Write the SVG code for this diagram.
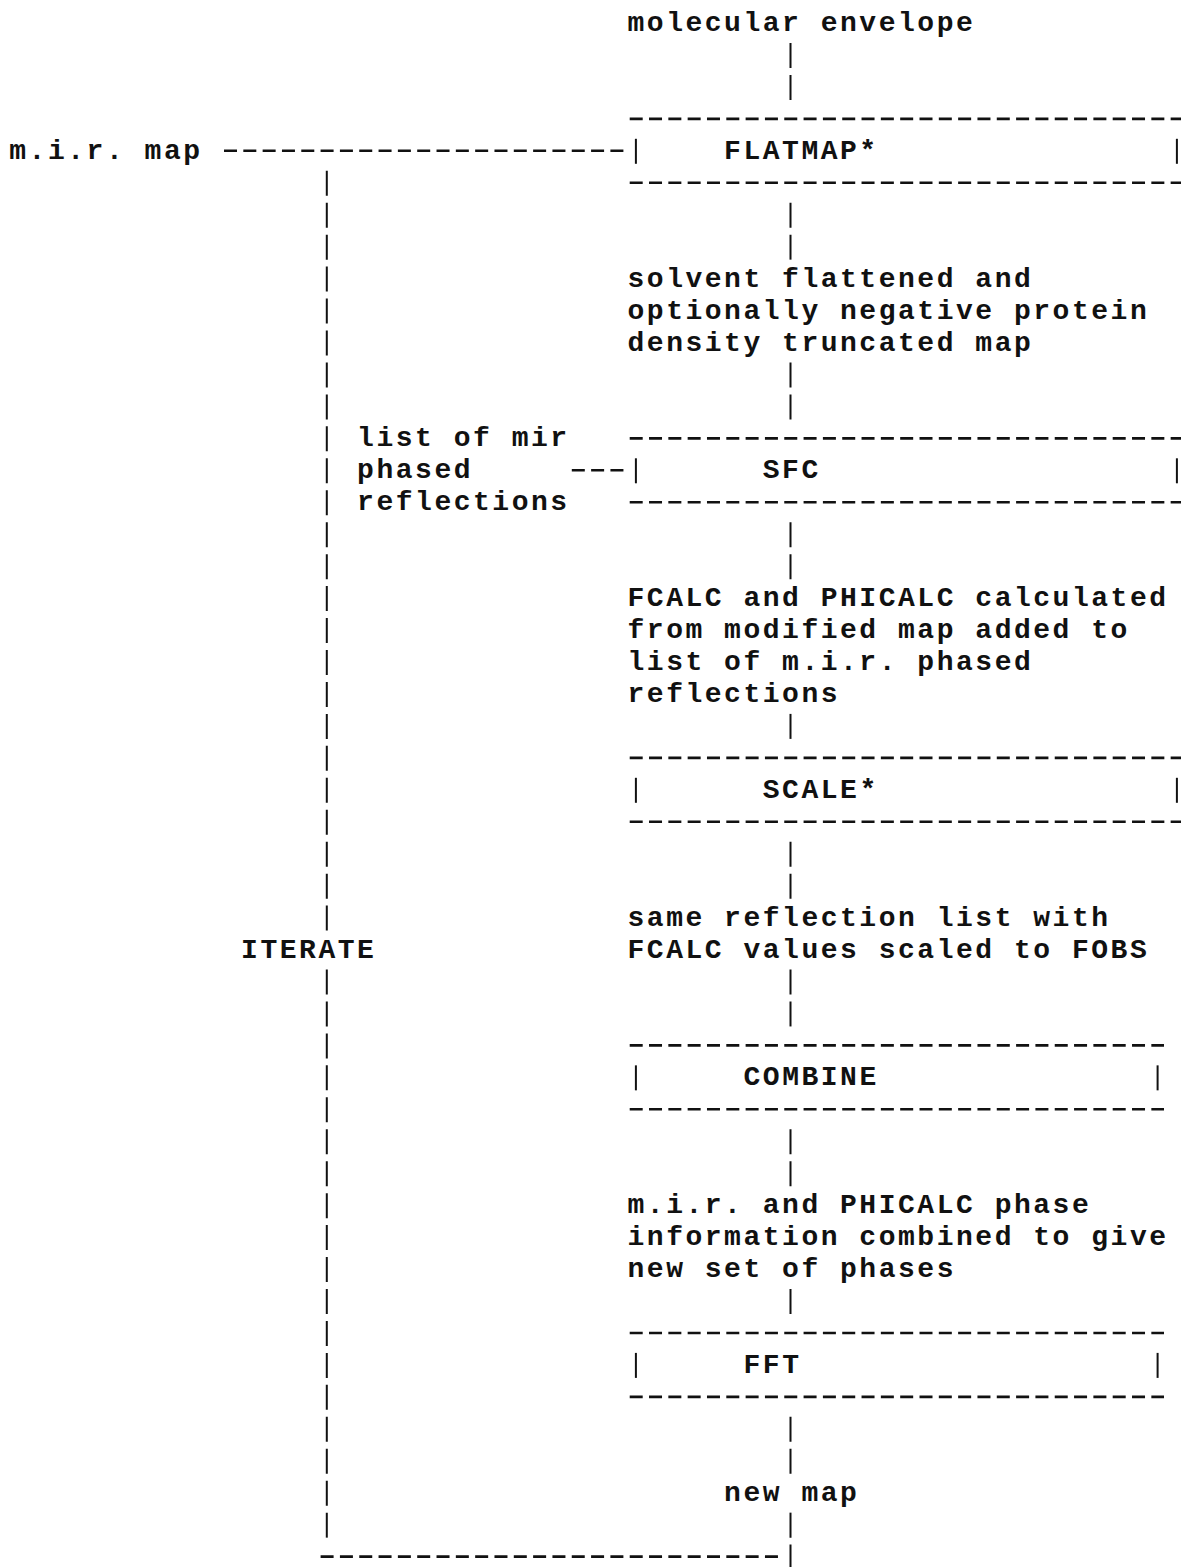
<svg xmlns="http://www.w3.org/2000/svg" width="1181" height="1567" viewBox="0 0 1181 1567">
<style>
.t{font-family:"Liberation Mono","Courier New",monospace;font-size:28px;letter-spacing:2.52px;font-weight:bold;fill:#111}
.h{stroke:#111;stroke-width:2.6;stroke-dasharray:13 6.32;fill:none}
.v{stroke:#111;stroke-width:2;stroke-dasharray:25 6.95;fill:none}
.b{stroke:#111;stroke-width:2;fill:none}
</style>
<rect width="1181" height="1567" fill="#fff"/>
<g id="connectors">
  <line class="v" x1="790.5" y1="42.95" x2="790.5" y2="99.9"/>
  <line class="v" x1="790.5" y1="202.7" x2="790.5" y2="259.65"/>
  <line class="v" x1="790.5" y1="362.45" x2="790.5" y2="419.4"/>
  <line class="v" x1="790.5" y1="522.2" x2="790.5" y2="579.15"/>
  <line class="v" x1="790.5" y1="713.9" x2="790.5" y2="738.9"/>
  <line class="v" x1="790.5" y1="841.7" x2="790.5" y2="898.65"/>
  <line class="v" x1="790.5" y1="969.5" x2="790.5" y2="1026.45"/>
  <line class="v" x1="790.5" y1="1129.25" x2="790.5" y2="1186.2"/>
  <line class="v" x1="790.5" y1="1289" x2="790.5" y2="1314"/>
  <line class="v" x1="790.5" y1="1416.8" x2="790.5" y2="1473.75"/>
  <line class="v" x1="790.5" y1="1512.65" x2="790.5" y2="1569.6"/>
  <line class="h" x1="224" y1="150.8" x2="623.5" y2="150.8"/>
  <line class="h" x1="571.8" y1="470.3" x2="623.5" y2="470.3"/>
  <line class="v" x1="326.8" y1="170.75" x2="326.8" y2="930.6"/>
  <line class="v" x1="326.8" y1="969.5" x2="326.8" y2="1537.65"/>
  <line class="h" x1="320.6" y1="1556.6" x2="778" y2="1556.6"/>
</g>
<g id="node-molecular-envelope">
  <text class="t" x="627.5" y="31">molecular envelope</text>
</g>
<g id="node-mir-map">
  <text class="t" x="9.3" y="158.8">m.i.r. map</text>
</g>
<g id="node-flatmap">
  <line class="h" x1="629.7" y1="118.85" x2="1190" y2="118.85"/>
  <line class="h" x1="629.7" y1="182.75" x2="1190" y2="182.75"/>
  <line class="b" x1="635.9" y1="138.8" x2="635.9" y2="163.8"/>
  <line class="b" x1="1176.9" y1="138.8" x2="1176.9" y2="163.8"/>
  <text class="t" x="724.1" y="158.8">FLATMAP*</text>
</g>
<g id="node-solvent-map">
  <text class="t" x="627.5" y="286.6">solvent flattened and</text>
  <text class="t" x="627.5" y="318.55">optionally negative protein</text>
  <text class="t" x="627.5" y="350.5">density truncated map</text>
</g>
<g id="node-mir-list">
  <text class="t" x="357.1" y="446.35">list of mir</text>
  <text class="t" x="357.1" y="478.3">phased</text>
  <text class="t" x="357.1" y="510.25">reflections</text>
</g>
<g id="node-sfc">
  <line class="h" x1="629.7" y1="438.35" x2="1190" y2="438.35"/>
  <line class="h" x1="629.7" y1="502.25" x2="1190" y2="502.25"/>
  <line class="b" x1="635.9" y1="458.3" x2="635.9" y2="483.3"/>
  <line class="b" x1="1176.9" y1="458.3" x2="1176.9" y2="483.3"/>
  <text class="t" x="762.8" y="478.3">SFC</text>
</g>
<g id="node-fcalc-list">
  <text class="t" x="627.5" y="606.1">FCALC and PHICALC calculated</text>
  <text class="t" x="627.5" y="638.05">from modified map added to</text>
  <text class="t" x="627.5" y="670">list of m.i.r. phased</text>
  <text class="t" x="627.5" y="701.95">reflections</text>
</g>
<g id="node-scale">
  <line class="h" x1="629.7" y1="757.85" x2="1190" y2="757.85"/>
  <line class="h" x1="629.7" y1="821.75" x2="1190" y2="821.75"/>
  <line class="b" x1="635.9" y1="777.8" x2="635.9" y2="802.8"/>
  <line class="b" x1="1176.9" y1="777.8" x2="1176.9" y2="802.8"/>
  <text class="t" x="762.8" y="797.8">SCALE*</text>
</g>
<g id="node-scaled-list">
  <text class="t" x="627.5" y="925.6">same reflection list with</text>
  <text class="t" x="627.5" y="957.55">FCALC values scaled to FOBS</text>
</g>
<g id="label-iterate">
  <text class="t" x="241.1" y="957.55">ITERATE</text>
</g>
<g id="node-combine">
  <line class="h" x1="629.7" y1="1045.4" x2="1164" y2="1045.4"/>
  <line class="h" x1="629.7" y1="1109.3" x2="1164" y2="1109.3"/>
  <line class="b" x1="635.9" y1="1065.35" x2="635.9" y2="1090.35"/>
  <line class="b" x1="1157.6" y1="1065.35" x2="1157.6" y2="1090.35"/>
  <text class="t" x="743.5" y="1085.35">COMBINE</text>
</g>
<g id="node-new-phases">
  <text class="t" x="627.5" y="1213.15">m.i.r. and PHICALC phase</text>
  <text class="t" x="627.5" y="1245.1">information combined to give</text>
  <text class="t" x="627.5" y="1277.05">new set of phases</text>
</g>
<g id="node-fft">
  <line class="h" x1="629.7" y1="1332.95" x2="1164" y2="1332.95"/>
  <line class="h" x1="629.7" y1="1396.85" x2="1164" y2="1396.85"/>
  <line class="b" x1="635.9" y1="1352.9" x2="635.9" y2="1377.9"/>
  <line class="b" x1="1157.6" y1="1352.9" x2="1157.6" y2="1377.9"/>
  <text class="t" x="743.5" y="1372.9">FFT</text>
</g>
<g id="node-new-map">
  <text class="t" x="724.1" y="1500.7">new map</text>
</g>
</svg>
